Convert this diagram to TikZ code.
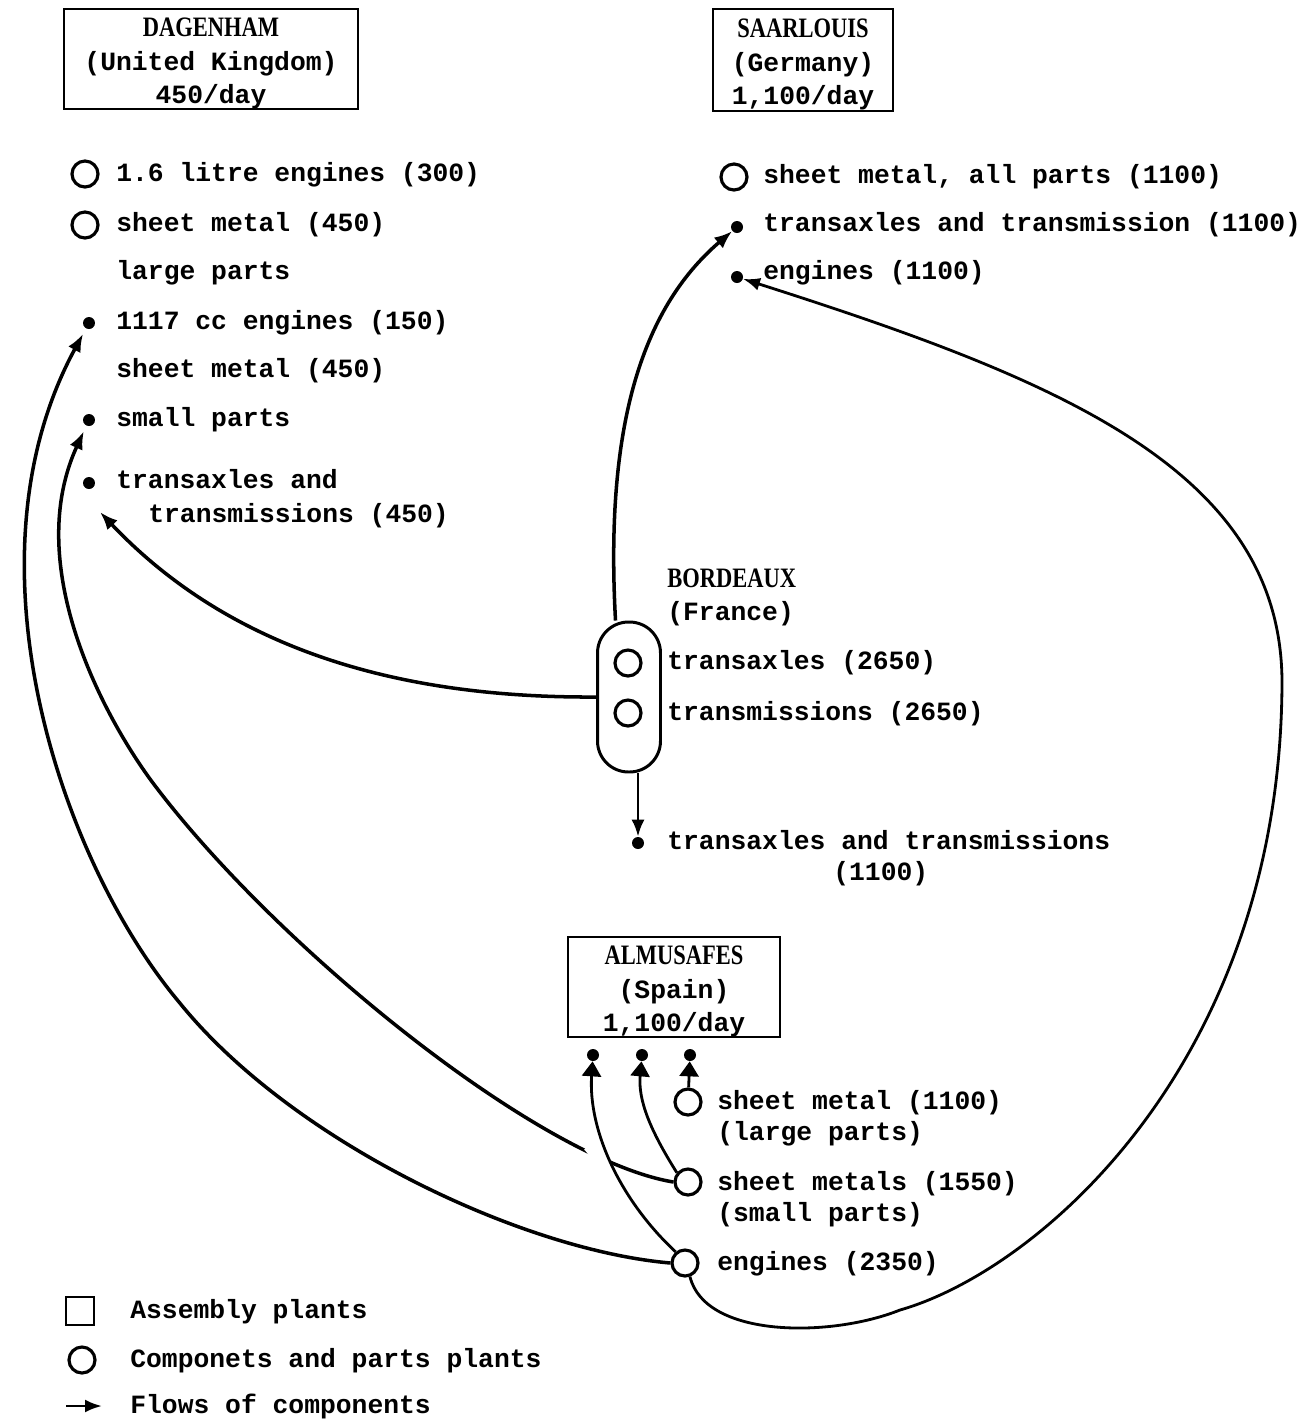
\documentclass[tikz,border=0pt]{standalone}
\usepackage{fontspec}
\setmonofont{Liberation Mono}
\newfontfamily\namefont[FakeStretch=0.8]{Liberation Serif}
\usetikzlibrary{arrows.meta,positioning}
\newcommand{\itemfont}{\fontsize{15}{19}\selectfont\ttfamily\bfseries}
\newcommand{\plantname}[1]{{\fontsize{16}{19}\selectfont\namefont\bfseries\rule{0pt}{16pt}#1}}
\tikzset{
  plant/.style={
    draw,
    line width=1.2pt,
    align=center,
    inner sep=0pt,
    font=\itemfont
  },
  parts/.style={circle, draw, line width=1.8pt, minimum size=0.52cm, inner sep=0pt},
  dest/.style={circle, fill, minimum size=0.24cm, inner sep=0pt},
  item/.style={anchor=west, inner sep=0pt, yshift=-0.06cm, font=\itemfont, text height=0.75em, text depth=0.25em},
  flow/.style={-{Latex[length=0.36cm,width=0.28cm]}, line width=2pt},
  thinflow/.style={-{Latex[length=0.34cm,width=0.26cm]}, line width=1.6pt},
  upflow/.style={-{Triangle[length=0.3cm,width=0.38cm]}, line width=1.6pt}
}

\begin{document}
\begin{tikzpicture}[x=0.02cm,y=-0.02cm]
  \useasboundingbox (0,0) rectangle (1316,1421);

  % assembly plants
  \node[plant,minimum width=5.88cm,minimum height=1.96cm] (dagenham) at (211,59)
    {\plantname{DAGENHAM}\\(United Kingdom)\\450/day};
  \node[plant,minimum width=3.6cm,minimum height=2.04cm] (saarlouis) at (803,60)
    {\plantname{SAARLOUIS}\\(Germany)\\1,100/day};
  \node[plant,minimum width=4.24cm,minimum height=1.98cm] (almusafes) at (674,987)
    {\plantname{ALMUSAFES}\\(Spain)\\1,100/day};

  % Dagenham
  \node[parts] (dgEngL) at (85,174) {};
  \node[item] (dgEngLTxt) at (116,174) {1.6 litre engines (300)};
  \node[parts] (dgSheet) at (85,225) {};
  \node[item] (dgSheetTxt) at (116,224) {sheet metal (450)};
  \node[item] (dgLargeTxt) at (116,272) {large parts};
  \node[dest] (dgEng) at (89,323) {};
  \node[item] (dgEngTxt) at (116,322) {1117 cc engines (150)};
  \node[item] (dgSheetBTxt) at (116,370) {sheet metal (450)};
  \node[dest] (dgSm) at (89,420) {};
  \node[item] (dgSmTxt) at (116,419) {small parts};
  \node[dest] (dgTr) at (89,483) {};
  \node[item] (dgTrTxt) at (116,481) {transaxles and};
  \node[item] (dgTrTxtB) at (148,515) {transmissions (450)};
  \coordinate (dgTrIn) at (100,512);

  % Saarlouis
  \node[parts] (saSheet) at (734,177) {};
  \node[item] (saSheetTxt) at (763,176) {sheet metal, all parts (1100)};
  \node[dest] (saTr) at (737,227) {};
  \node[item] (saTrTxt) at (763,224) {transaxles and transmission (1100)};
  \node[dest] (saEng) at (737,277) {};
  \node[item] (saEngTxt) at (763,272) {engines (1100)};

  % Bordeaux
  \node[item] (bdName) at (667,580) {\plantname{BORDEAUX}};
  \node[item] (bdCountry) at (667,613) {(France)};
  \node[draw,line width=1.7pt,rounded corners=0.62cm,minimum width=1.26cm,
        minimum height=3cm,inner sep=0pt] (bdx) at (629,697) {};
  \node[parts] (bdTa) at (628,663) {};
  \node[item] (bdTaTxt) at (667,662) {transaxles (2650)};
  \node[parts] (bdTm) at (628,713) {};
  \node[item] (bdTmTxt) at (667,713) {transmissions (2650)};
  \node[dest] (bdDot) at (638,843) {};
  \node[item] (bdDotTxt) at (667,842) {transaxles and transmissions};
  \node[item] (bdDotTxtB) at (833,873) {(1100)};

  % Almusafes
  \node[dest] (amDotA) at (593,1055) {};
  \node[dest] (amDotB) at (642,1055) {};
  \node[dest] (amDotC) at (690,1055) {};
  \node[parts] (amSm1) at (688,1102) {};
  \node[item] (amSm1Txt) at (717,1102) {sheet metal (1100)};
  \node[item] (amSm1TxtB) at (717,1133) {(large parts)};
  \node[parts] (amSm2) at (688,1182) {};
  \node[item] (amSm2Txt) at (717,1183) {sheet metals (1550)};
  \node[item] (amSm2TxtB) at (717,1214) {(small parts)};
  \node[parts] (amEng) at (685,1263) {};
  \node[item] (amEngTxt) at (717,1263) {engines (2350)};

  % flows
  \draw[flow] (bdx.100) .. controls (605,430) and (640,310) .. (saTr);
  \draw[flow] (bdx.west) .. controls (420,698) and (240,660) .. (dgTrIn);
  \draw[thinflow] (bdx.south -| bdDot) -- (bdDot);
  \draw[flow,shorten >=0.12cm] (amSm2.west) .. controls (540,1160) and (280,950) .. (156,787)
    .. controls (110,727) and (20,570) .. (dgSm);
  \draw[flow,shorten >=0.12cm] (amEng.west) .. controls (520,1250) and (290,1140) .. (179,1002)
    .. controls (60,860) and (-40,560) .. (dgEng);
  \draw[thinflow] (amEng.-70) .. controls (705,1338) and (830,1338) .. (900,1310)
    .. controls (1040,1270) and (1282,1060) .. (1282,680)
    .. controls (1280,470) and (1060,380) .. (saEng);
  \draw[upflow] (amSm1) -- (amDotC);
  \draw[upflow] (amSm2.140) .. controls (650,1130) and (638,1100) .. (amDotB);
  \draw[upflow,preaction={draw=white,-,line width=0.3cm,shorten <=1.3cm,shorten >=1.7cm}]
    (amEng.130) .. controls (620,1200) and (588,1130) .. (amDotA);

  % legend
  \node[plant,minimum size=0.56cm] (legBox) at (80,1311) {};
  \node[item] (legBoxTxt) at (130,1311) {Assembly plants};
  \node[parts] (legCirc) at (82,1360) {};
  \node[item] (legCircTxt) at (130,1360) {Componets and parts plants};
  \coordinate (legTail) at (66,1406);
  \coordinate (legHead) at (102,1406);
  \draw[thinflow] (legTail) -- (legHead);
  \node[item] (legFlowTxt) at (130,1406) {Flows of components};
\end{tikzpicture}
\end{document}
